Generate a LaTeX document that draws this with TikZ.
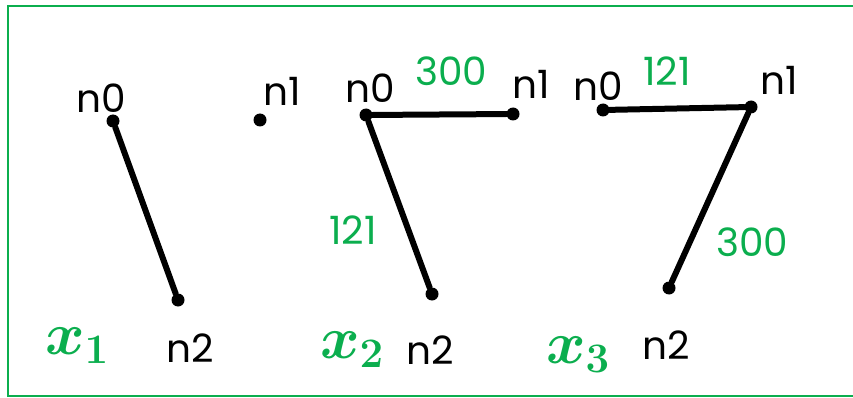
\documentclass[tikz,border=0pt]{standalone}
\usepackage{fix-cm}
\usepackage{amsmath}
\usepackage{bm}
\usepackage[no-math]{fontspec}
\setmainfont{Poppins}
\usepackage{xcolor}
\usetikzlibrary{positioning}
\definecolor{gfg}{HTML}{0BAE4E}

\begin{document}
\begin{tikzpicture}[
  x=1pt, y=-1pt,
  dot/.style={circle, fill=black, inner sep=0pt, minimum size=13pt},
  lbl/.style={font=\fontsize{39}{42}\selectfont, inner sep=0pt},
  wlbl/.style={font=\fontsize{39}{42}\selectfont, text=gfg, inner sep=0pt},
  varlbl/.style={font=\fontsize{60}{64}\selectfont, text=gfg, inner sep=0pt},
  edge/.style={line width=6pt, line cap=round},
  frame/.style={draw=gfg, line width=2pt},
]
\useasboundingbox (0,0) rectangle (853,398);
% outer frame, cut on the right
\draw[frame] (8,6) rectangle (870,396);

% first graph: only n0 -- n2
\node[dot] (a0) at (113,121) {};
\node[dot] (a1) at (260,120) {};
\node[dot] (a2) at (178,300) {};
\node[lbl] (a0l) at (101,98) {n0};
\node[lbl] (a1l) at (282,91) {n1};
\node[lbl] (a2l) at (190,348) {n2};
\draw[edge] (a0) -- (a2);
\node[varlbl] (x1) at (77,346) {$\bm{x}_{\mathbf{1}}$};

% second graph
\node[dot] (b0) at (366,115) {};
\node[dot] (b1) at (513,114) {};
\node[dot] (b2) at (432,294) {};
\node[lbl] (b0l) at (370,88) {n0};
\node[lbl] (b1l) at (531,84) {n1};
\node[lbl] (b2l) at (430,350) {n2};
\draw[edge] (b0) -- (b1);
\draw[edge] (b0) -- (b2);
\node[wlbl] (b01w) at (451,71) {300};
\node[wlbl] (b02w) at (353,230) {121};
\node[varlbl] (x2) at (352,350) {$\bm{x}_{\mathbf{2}}$};

% third graph
\node[dot] (c0) at (603,110) {};
\node[dot] (c1) at (751,107) {};
\node[dot] (c2) at (669,288) {};
\node[lbl] (c0l) at (598,86) {n0};
\node[lbl] (c1l) at (779,80) {n1};
\node[lbl] (c2l) at (666,345) {n2};
\draw[edge] (c0) -- (c1);
\draw[edge] (c1) -- (c2);
\node[wlbl] (c01w) at (667,71) {121};
\node[wlbl] (c12w) at (752,242) {300};
\node[varlbl] (x3) at (578,355) {$\bm{x}_{\mathbf{3}}$};
\end{tikzpicture}
\end{document}
